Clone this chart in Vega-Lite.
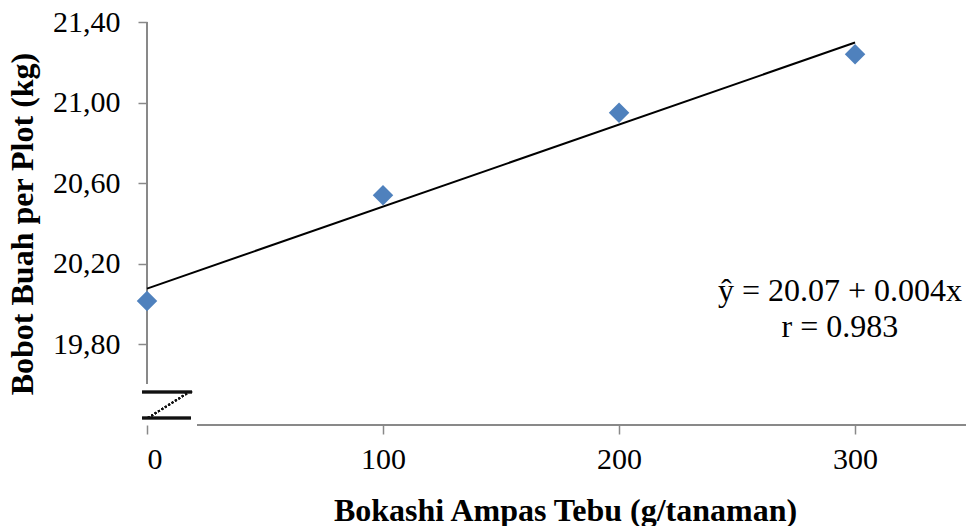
{
  "$schema": "https://vega.github.io/schema/vega-lite/v6.json",
  "width": 819,
  "height": 403,
  "autosize": {"type": "none"},
  "padding": {"left": 147, "top": 22, "right": 0, "bottom": 101},
  "background": "white",
  "config": {
    "view": {"stroke": null},
    "font": "Liberation Serif",
    "axis": {
      "domain": false,
      "grid": false,
      "tickColor": "#898989",
      "tickWidth": 1.5,
      "tickSize": 9,
      "labelFont": "Liberation Serif",
      "labelFontSize": 30,
      "labelColor": "#000000",
      "titleFont": "Liberation Serif",
      "titleFontSize": 32,
      "titleFontWeight": "bold",
      "titleColor": "#000000"
    }
  },
  "datasets": {
    "obs": [
      {"dosis": 0, "bobot": 20.015},
      {"dosis": 100, "bobot": 20.54},
      {"dosis": 200, "bobot": 20.95},
      {"dosis": 300, "bobot": 21.24}
    ],
    "fit": [
      {"dosis": 0, "bobot": 20.077},
      {"dosis": 300, "bobot": 21.298}
    ]
  },
  "layer": [
    {
      "data": {"name": "obs"},
      "mark": {"type": "rule", "color": "#898989", "strokeWidth": 1.5},
      "encoding": {
        "x": {"datum": 0, "type": "quantitative", "scale": {"domain": [0, 347], "nice": false, "zero": false},
          "axis": {"values": [0, 100, 200, 300], "labelPadding": 10, "title": "Bokashi Ampas Tebu (g/tanaman)", "titleX": 418, "titleY": 95, "titleBaseline": "alphabetic", "titleAnchor": null}},
        "y": {"datum": 19.603, "type": "quantitative", "scale": {"domain": [19.4, 21.4], "nice": false, "zero": false},
          "axis": {"values": [19.8, 20.2, 20.6, 21.0, 21.4], "labelExpr": "replace(format(datum.value, '.2f'), '.', ',')", "labelPadding": 18, "title": "Bobot Buah per Plot (kg)", "titleX": -115, "titleBaseline": "alphabetic"}},
        "y2": {"datum": 21.4}
      }
    },
    {
      "data": {"name": "obs"},
      "mark": {"type": "rule", "color": "#898989", "strokeWidth": 1.5},
      "encoding": {
        "x": {"datum": 21.2, "type": "quantitative"},
        "x2": {"datum": 347},
        "y": {"datum": 19.4, "type": "quantitative"}
      }
    },
    {
      "data": {"name": "obs"},
      "mark": {"type": "rule", "color": "#111111", "strokeWidth": 2.5},
      "encoding": {
        "x": {"datum": -2.1, "type": "quantitative"},
        "x2": {"datum": 19.1},
        "y": {"datum": 19.564, "type": "quantitative"}
      }
    },
    {
      "data": {"name": "obs"},
      "mark": {"type": "rule", "color": "#111111", "strokeWidth": 2.5},
      "encoding": {
        "x": {"datum": -2.1, "type": "quantitative"},
        "x2": {"datum": 18.6},
        "y": {"datum": 19.435, "type": "quantitative"}
      }
    },
    {
      "data": {"name": "obs"},
      "mark": {"type": "rule", "color": "#111111", "strokeWidth": 2, "strokeDash": [2, 2]},
      "encoding": {
        "x": {"datum": 0.4, "type": "quantitative"},
        "x2": {"datum": 17.4},
        "y": {"datum": 19.435, "type": "quantitative"},
        "y2": {"datum": 19.56}
      }
    },
    {
      "data": {"name": "fit"},
      "mark": {"type": "line", "color": "#000000", "strokeWidth": 2},
      "encoding": {
        "x": {"field": "dosis", "type": "quantitative"},
        "y": {"field": "bobot", "type": "quantitative"}
      }
    },
    {
      "data": {"name": "obs"},
      "mark": {"type": "point", "shape": "diamond", "filled": true, "color": "#4F81BD", "opacity": 1, "size": 420},
      "encoding": {
        "x": {"field": "dosis", "type": "quantitative"},
        "y": {"field": "bobot", "type": "quantitative"}
      }
    },
    {
      "data": {"values": [{}]},
      "mark": {"type": "text", "text": ["ŷ = 20.07 + 0.004x", "r = 0.983"], "font": "Liberation Serif", "fontSize": 32, "lineHeight": 36, "align": "center", "baseline": "middle", "color": "#000000"},
      "encoding": {
        "x": {"datum": 293.6, "type": "quantitative"},
        "y": {"datum": 20.065, "type": "quantitative"}
      }
    }
  ]
}
